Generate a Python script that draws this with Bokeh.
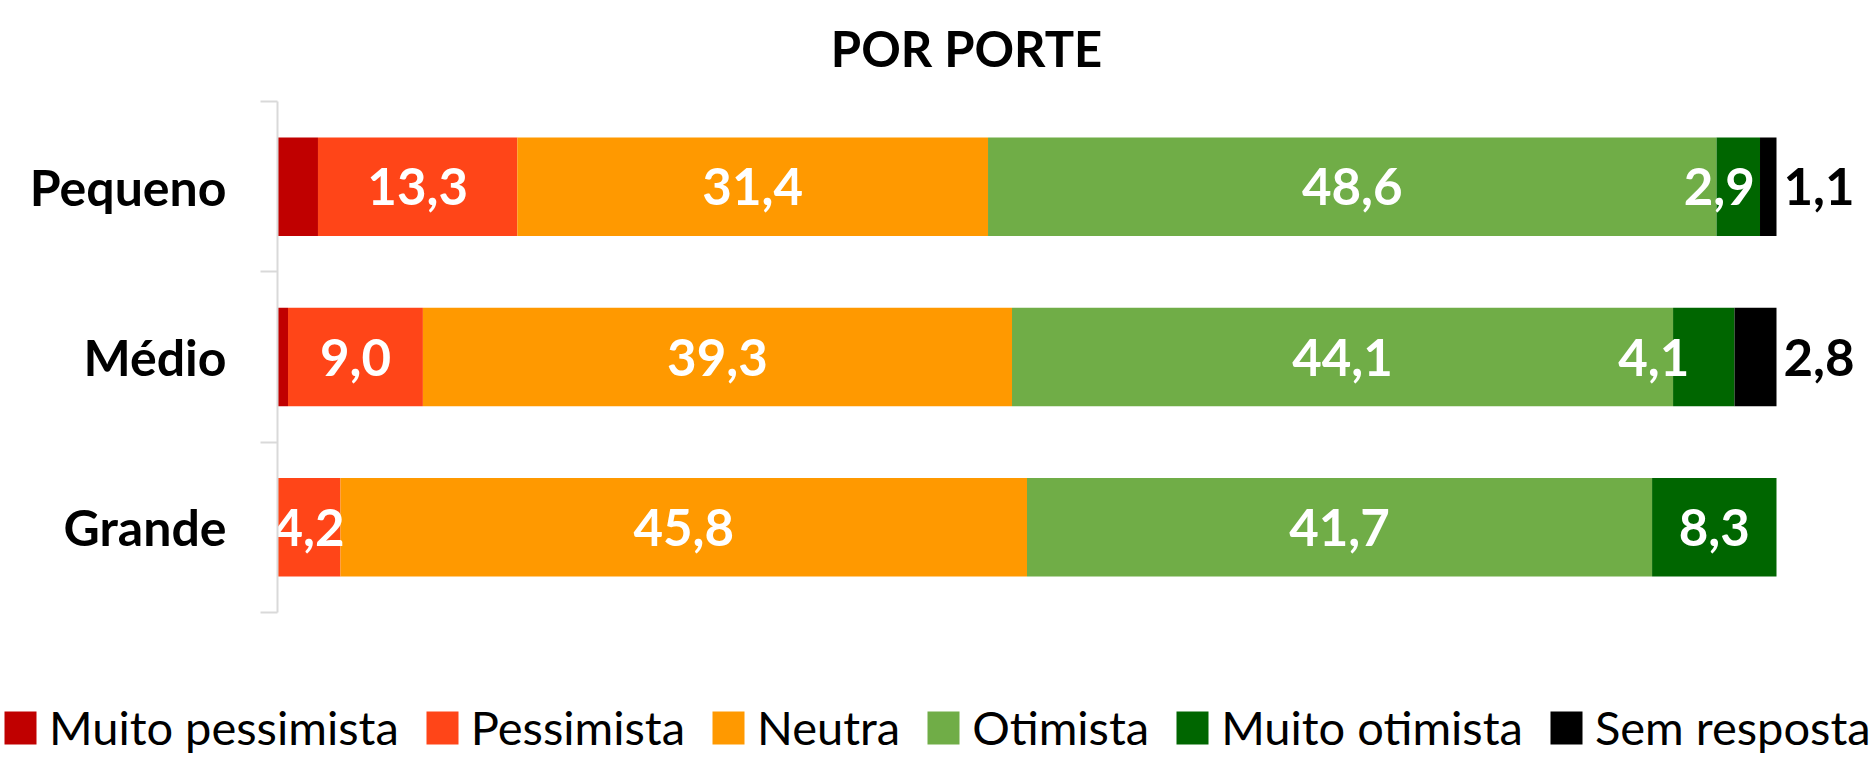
from bokeh.plotting import figure
from bokeh.models import ColumnDataSource, Range1d, FixedTicker, Legend, LegendItem, Label
from bokeh.core.properties import value
from bokeh.embed import file_html
from bokeh.resources import INLINE

# ---------------- data ----------------
title_text = "POR PORTE"
categories = ["Pequeno", "Médio", "Grande"]
series_names = ["Muito pessimista", "Pessimista", "Neutra", "Otimista", "Muito otimista", "Sem resposta"]
muito_pessimista = [2.7, 0.7, 0.0]
pessimista = [13.3, 9.0, 4.2]
neutra = [31.4, 39.3, 45.8]
otimista = [48.6, 44.1, 41.7]
muito_otimista = [2.9, 4.1, 8.3]
sem_resposta = [1.1, 2.8, 0.0]

# ---------------- style ----------------
colors = ["#C00000", "#FF4518", "#FF9900", "#70AD47", "#006600", "#000000"]
FONT = "Lato"
W = 1871
TOP_H, MAIN_H, LEG_H = 99, 515, 143
LEFT = 277
label_shift = {("Pequeno", "Muito otimista"): -19, ("Médio", "Muito otimista"): -50}

all_values = [muito_pessimista, pessimista, neutra, otimista, muito_otimista, sem_resposta]
keys = ["s%d" % i for i in range(len(series_names))]
n = len(categories)
ypos = [n - i - 0.5 for i in range(n)]

data = {"y": ypos, "cat": categories}
for k, v in zip(keys, all_values):
    data[k] = v
source = ColumnDataSource(data)


def strip(h):
    f = figure(width=W, height=h, output_backend="svg", toolbar_location=None, title=None,
               x_range=Range1d(0, W), y_range=Range1d(0, h),
               x_axis_location=None, y_axis_location=None, min_border=0)
    f.grid.visible = False
    f.outline_line_color = None
    return f


# ---------------- title strip ----------------
top = strip(TOP_H)
top.add_layout(Label(x=966, y=TOP_H - 47, text=title_text,
                     text_align="center", text_baseline="alphabetic",
                     text_font=FONT, text_font_style="bold", text_font_size="49px",
                     text_color="black"))

# ---------------- main chart ----------------
p = figure(width=W, height=MAIN_H, output_backend="svg", toolbar_location=None, title=None,
           x_range=Range1d(0, 100 * (W - LEFT) / 1499), y_range=Range1d(0, n),
           x_axis_location=None,
           min_border_left=LEFT, min_border_right=0, min_border_top=2, min_border_bottom=2)
p.grid.visible = False
p.outline_line_color = None

renderers = p.hbar_stack(keys, y="y", height=0.578, source=source,
                         fill_color=colors, line_color=None)

in_x, in_y, in_t, in_off = [], [], [], []
out_x, out_y, out_t = [], [], []
for r, cat in enumerate(categories):
    cum = 0.0
    for s, name in enumerate(series_names):
        v = all_values[s][r]
        start = cum
        cum += v
        if s == 0 or v == 0:
            continue
        txt = f"{v:.1f}".replace(".", ",")
        if name == "Sem resposta":
            out_x.append(cum); out_y.append(ypos[r]); out_t.append(txt)
        else:
            in_x.append(start + v / 2); in_y.append(ypos[r]); in_t.append(txt)
            in_off.append(label_shift.get((cat, name), 0))

p.text(x="x", y="y", text="t", x_offset="off",
       source=ColumnDataSource(dict(x=in_x, y=in_y, t=in_t, off=in_off)),
       text_color="white", text_align="center", text_baseline="middle",
       text_font=value(FONT), text_font_style="bold", text_font_size="51px")
p.text(x="x", y="y", text="t", x_offset=7,
       source=ColumnDataSource(dict(x=out_x, y=out_y, t=out_t)),
       text_color="black", text_align="left", text_baseline="middle",
       text_font=value(FONT), text_font_style="bold", text_font_size="51px")

ax = p.yaxis[0]
ax.ticker = FixedTicker(ticks=ypos, minor_ticks=list(range(n + 1)))
ax.major_label_overrides = {y: c for y, c in zip(ypos, categories)}
ax.major_tick_line_color = None
ax.major_tick_out = 0
ax.major_tick_in = 0
ax.minor_tick_out = 17
ax.minor_tick_in = 0
ax.minor_tick_line_color = "#d9d9d9"
ax.minor_tick_line_width = 2
ax.axis_line_color = "#d9d9d9"
ax.axis_line_width = 2
ax.major_label_standoff = 34
ax.major_label_text_font = FONT
ax.major_label_text_font_style = "bold"
ax.major_label_text_font_size = "50px"
ax.major_label_text_color = "black"

# ---------------- legend strip ----------------
leg = strip(LEG_H)
proxies = [leg.hbar(y=[-100], left=[0], right=[1], height=1, fill_color=c, line_color=None)
           for c in colors]
items = [LegendItem(label=nm, renderers=[rr]) for nm, rr in zip(series_names, proxies)]
legend = Legend(items=items, orientation="horizontal", location=(0, 2),
                glyph_width=40, glyph_height=41, label_standoff=9, spacing=23,
                padding=0, margin=0, border_line_color=None, background_fill_alpha=0,
                label_text_font=FONT, label_text_font_size="47px", label_text_color="black")
leg.add_layout(legend, "center")

open("out.html", "w").write(file_html([top, p, leg], INLINE))
